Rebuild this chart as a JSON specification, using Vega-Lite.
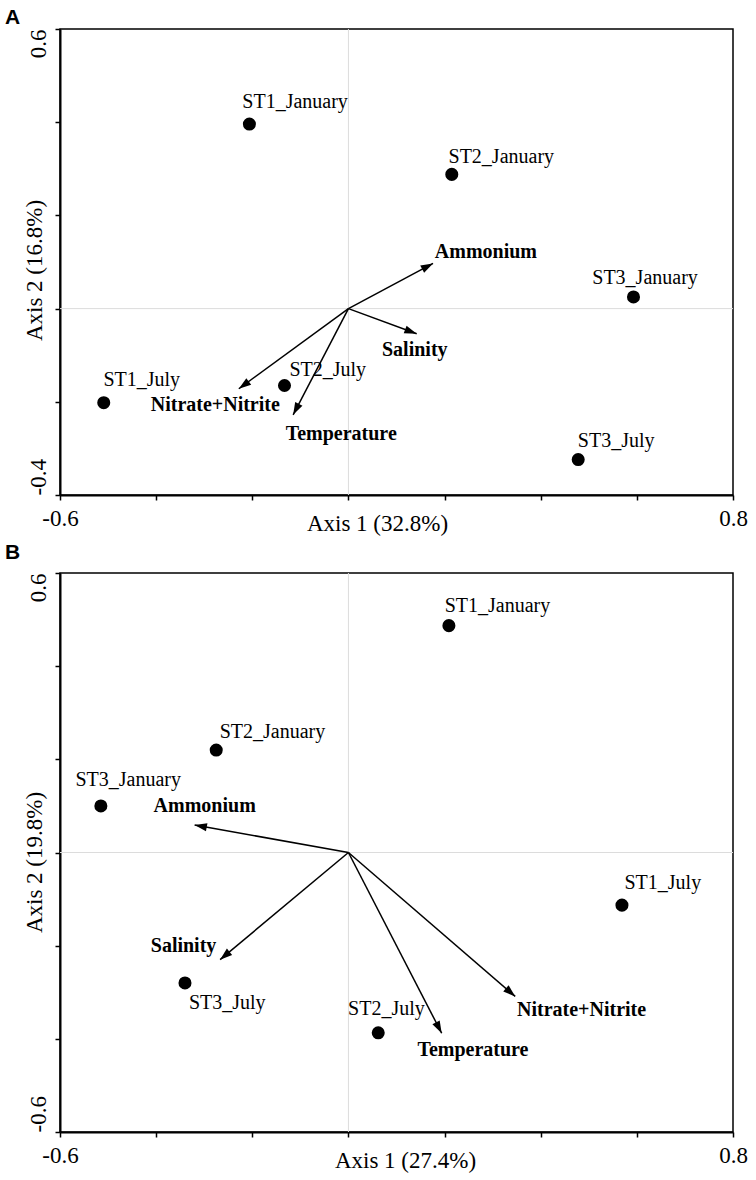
{
  "$schema": "https://vega.github.io/schema/vega-lite/v6.json",
  "background": "white",
  "padding": {"left": 4, "top": 6, "right": 5, "bottom": 5},
  "config": {
    "view": {"stroke": "black", "strokeWidth": 1.5},
    "font": "Liberation Serif",
    "title": {"font": "Liberation Sans", "fontWeight": "bold", "fontSize": 21, "color": "black", "anchor": "start", "frame": "group", "baseline": "alphabetic"}
  },
  "spacing": 5,
  "datasets": {
    "a": [
      {"kind": "site", "name": "ST1_January", "x": -0.206, "y": 0.396, "lx": -0.111, "ly": 0.431},
      {"kind": "site", "name": "ST2_January", "x": 0.215, "y": 0.288, "lx": 0.318, "ly": 0.313},
      {"kind": "site", "name": "ST3_January", "x": 0.593, "y": 0.025, "lx": 0.617, "ly": 0.052},
      {"kind": "site", "name": "ST1_July", "x": -0.509, "y": -0.202, "lx": -0.43, "ly": -0.167},
      {"kind": "site", "name": "ST2_July", "x": -0.133, "y": -0.165, "lx": -0.043, "ly": -0.145},
      {"kind": "site", "name": "ST3_July", "x": 0.478, "y": -0.324, "lx": 0.557, "ly": -0.298},
      {"kind": "env", "name": "Ammonium", "x": 0.176, "y": 0.097, "lx": 0.286, "ly": 0.109},
      {"kind": "env", "name": "Salinity", "x": 0.142, "y": -0.054, "lx": 0.138, "ly": -0.102},
      {"kind": "env", "name": "Nitrate+Nitrite", "x": -0.228, "y": -0.172, "lx": -0.277, "ly": -0.22},
      {"kind": "env", "name": "Temperature", "x": -0.115, "y": -0.228, "lx": -0.015, "ly": -0.281}
    ],
    "b": [
      {"kind": "site", "name": "ST1_January", "x": 0.209, "y": 0.487, "lx": 0.31, "ly": 0.517},
      {"kind": "site", "name": "ST2_January", "x": -0.275, "y": 0.22, "lx": -0.158, "ly": 0.246},
      {"kind": "site", "name": "ST3_January", "x": -0.515, "y": 0.1, "lx": -0.458, "ly": 0.143},
      {"kind": "site", "name": "ST1_July", "x": 0.569, "y": -0.113, "lx": 0.654, "ly": -0.079},
      {"kind": "site", "name": "ST2_July", "x": 0.062, "y": -0.387, "lx": 0.079, "ly": -0.348},
      {"kind": "site", "name": "ST3_July", "x": -0.34, "y": -0.28, "lx": -0.252, "ly": -0.335},
      {"kind": "env", "name": "Ammonium", "x": -0.32, "y": 0.059, "lx": -0.299, "ly": 0.087},
      {"kind": "env", "name": "Salinity", "x": -0.267, "y": -0.23, "lx": -0.343, "ly": -0.214},
      {"kind": "env", "name": "Temperature", "x": 0.194, "y": -0.388, "lx": 0.259, "ly": -0.436},
      {"kind": "env", "name": "Nitrate+Nitrite", "x": 0.347, "y": -0.309, "lx": 0.485, "ly": -0.35}
    ]
  },
  "vconcat": [
    {
      "title": {"text": "A", "dx": -55, "offset": 0},
      "width": 673,
      "height": 466,
      "layer": [
        {
          "data": {"values": [{"z": 0}]},
          "mark": {"type": "rule", "color": "#dcdcdc", "strokeWidth": 1},
          "encoding": {"x": {"field": "z", "type": "quantitative", "scale": {"domain": [-0.6, 0.8], "nice": false, "zero": false}}}
        },
        {
          "data": {"values": [{"z": 0}]},
          "mark": {"type": "rule", "color": "#dcdcdc", "strokeWidth": 1},
          "encoding": {"y": {"field": "z", "type": "quantitative", "scale": {"domain": [-0.4, 0.6], "nice": false, "zero": false}}}
        },
        {
          "data": {"name": "a"},
          "transform": [{"filter": "datum.kind == 'env'"}],
          "mark": {"type": "rule", "color": "black", "strokeWidth": 1.5},
          "encoding": {
            "x": {"field": "x", "type": "quantitative", "scale": {"domain": [-0.6, 0.8], "nice": false, "zero": false}},
            "y": {"field": "y", "type": "quantitative", "scale": {"domain": [-0.4, 0.6], "nice": false, "zero": false}},
            "x2": {"datum": 0},
            "y2": {"datum": 0}
          }
        },
        {
          "data": {"name": "a"},
          "transform": [{"filter": "datum.kind == 'env'"}, {"calculate": "atan2(datum.x * 480, datum.y * 466) * 180 / PI", "as": "ang"}],
          "mark": {"type": "point", "shape": "M0,0L0.4,1.2L-0.4,1.2Z", "filled": true, "color": "black", "opacity": 1, "size": 420, "strokeWidth": 0},
          "encoding": {
            "x": {"field": "x", "type": "quantitative", "scale": {"domain": [-0.6, 0.8], "nice": false, "zero": false}},
            "y": {"field": "y", "type": "quantitative", "scale": {"domain": [-0.4, 0.6], "nice": false, "zero": false}},
            "angle": {"field": "ang", "type": "quantitative", "scale": null}
          }
        },
        {
          "data": {"name": "a"},
          "transform": [{"filter": "datum.kind == 'site'"}],
          "mark": {"type": "circle", "size": 170, "color": "black", "opacity": 1},
          "encoding": {
            "x": {"field": "x", "type": "quantitative", "scale": {"domain": [-0.6, 0.8], "nice": false, "zero": false},
              "axis": {"values": [-0.6, -0.4, -0.2, 0, 0.2, 0.4, 0.6, 0.8], "labelExpr": "datum.value < -0.59 ? '-0.6' : datum.value > 0.79 ? '0.8' : ''", "grid": false, "tickSize": 5, "tickWidth": 1.5, "tickColor": "black", "domainColor": "black", "domainWidth": 2, "labelFont": "Liberation Serif", "labelFontSize": 23, "labelColor": "black", "labelBaseline": "alphabetic", "labelAlign": "center", "labelPadding": 25, "labelFlush": false, "labelOverlap": false, "title": "Axis 1 (32.8%)", "titleFont": "Liberation Serif", "titleFontSize": 23, "titleFontWeight": "normal", "titleColor": "black", "titleX": 317, "titleY": 35, "titleBaseline": "alphabetic", "titleAlign": "center"}},
            "y": {"field": "y", "type": "quantitative", "scale": {"domain": [-0.4, 0.6], "nice": false, "zero": false},
              "axis": {"values": [-0.4, -0.2, 0, 0.2, 0.4, 0.6], "labelExpr": "datum.value > 0.59 ? '0.6' : datum.value < -0.39 ? '-0.4' : ''", "grid": false, "tickSize": 5, "tickWidth": 1.5, "tickColor": "black", "domainColor": "black", "domainWidth": 2, "labelFont": "Liberation Serif", "labelFontSize": 23, "labelColor": "black", "labelAngle": -90, "labelBaseline": "alphabetic", "labelAlign": {"condition": {"test": "datum.value > 0", "value": "right"}, "value": "left"}, "labelPadding": 10, "labelFlush": false, "labelOverlap": false, "title": "Axis 2 (16.8%)", "titleFont": "Liberation Serif", "titleFontSize": 23, "titleFontWeight": "normal", "titleColor": "black", "titleAngle": -90, "titleX": -19, "titleY": 241, "titleBaseline": "alphabetic", "titleAlign": "center"}}
          }
        },
        {
          "data": {"name": "a"},
          "transform": [{"filter": "datum.kind == 'site'"}],
          "mark": {"type": "text", "font": "Liberation Serif", "fontSize": 20, "align": "center", "baseline": "alphabetic", "color": "black"},
          "encoding": {
            "x": {"field": "lx", "type": "quantitative", "scale": {"domain": [-0.6, 0.8], "nice": false, "zero": false}},
            "y": {"field": "ly", "type": "quantitative", "scale": {"domain": [-0.4, 0.6], "nice": false, "zero": false}},
            "text": {"field": "name"}
          }
        },
        {
          "data": {"name": "a"},
          "transform": [{"filter": "datum.kind == 'env'"}],
          "mark": {"type": "text", "font": "Liberation Serif", "fontSize": 20, "fontWeight": "bold", "align": "center", "baseline": "alphabetic", "color": "black"},
          "encoding": {
            "x": {"field": "lx", "type": "quantitative", "scale": {"domain": [-0.6, 0.8], "nice": false, "zero": false}},
            "y": {"field": "ly", "type": "quantitative", "scale": {"domain": [-0.4, 0.6], "nice": false, "zero": false}},
            "text": {"field": "name"}
          }
        }
      ]
    },
    {
      "title": {"text": "B", "dx": -55, "offset": 9},
      "width": 673,
      "height": 559,
      "layer": [
        {
          "data": {"values": [{"z": 0}]},
          "mark": {"type": "rule", "color": "#dcdcdc", "strokeWidth": 1},
          "encoding": {"x": {"field": "z", "type": "quantitative", "scale": {"domain": [-0.6, 0.8], "nice": false, "zero": false}}}
        },
        {
          "data": {"values": [{"z": 0}]},
          "mark": {"type": "rule", "color": "#dcdcdc", "strokeWidth": 1},
          "encoding": {"y": {"field": "z", "type": "quantitative", "scale": {"domain": [-0.6, 0.6], "nice": false, "zero": false}}}
        },
        {
          "data": {"name": "b"},
          "transform": [{"filter": "datum.kind == 'env'"}],
          "mark": {"type": "rule", "color": "black", "strokeWidth": 1.5},
          "encoding": {
            "x": {"field": "x", "type": "quantitative", "scale": {"domain": [-0.6, 0.8], "nice": false, "zero": false}},
            "y": {"field": "y", "type": "quantitative", "scale": {"domain": [-0.6, 0.6], "nice": false, "zero": false}},
            "x2": {"datum": 0},
            "y2": {"datum": 0}
          }
        },
        {
          "data": {"name": "b"},
          "transform": [{"filter": "datum.kind == 'env'"}, {"calculate": "atan2(datum.x * 480, datum.y * 466) * 180 / PI", "as": "ang"}],
          "mark": {"type": "point", "shape": "M0,0L0.4,1.2L-0.4,1.2Z", "filled": true, "color": "black", "opacity": 1, "size": 420, "strokeWidth": 0},
          "encoding": {
            "x": {"field": "x", "type": "quantitative", "scale": {"domain": [-0.6, 0.8], "nice": false, "zero": false}},
            "y": {"field": "y", "type": "quantitative", "scale": {"domain": [-0.6, 0.6], "nice": false, "zero": false}},
            "angle": {"field": "ang", "type": "quantitative", "scale": null}
          }
        },
        {
          "data": {"name": "b"},
          "transform": [{"filter": "datum.kind == 'site'"}],
          "mark": {"type": "circle", "size": 170, "color": "black", "opacity": 1},
          "encoding": {
            "x": {"field": "x", "type": "quantitative", "scale": {"domain": [-0.6, 0.8], "nice": false, "zero": false},
              "axis": {"values": [-0.6, -0.4, -0.2, 0, 0.2, 0.4, 0.6, 0.8], "labelExpr": "datum.value < -0.59 ? '-0.6' : datum.value > 0.79 ? '0.8' : ''", "grid": false, "tickSize": 5, "tickWidth": 1.5, "tickColor": "black", "domainColor": "black", "domainWidth": 2, "labelFont": "Liberation Serif", "labelFontSize": 23, "labelColor": "black", "labelBaseline": "alphabetic", "labelAlign": "center", "labelPadding": 25, "labelFlush": false, "labelOverlap": false, "title": "Axis 1 (27.4%)", "titleFont": "Liberation Serif", "titleFontSize": 23, "titleFontWeight": "normal", "titleColor": "black", "titleX": 345, "titleY": 35, "titleBaseline": "alphabetic", "titleAlign": "center"}},
            "y": {"field": "y", "type": "quantitative", "scale": {"domain": [-0.6, 0.6], "nice": false, "zero": false},
              "axis": {"values": [-0.6, -0.4, -0.2, 0, 0.2, 0.4, 0.6], "labelExpr": "datum.value > 0.59 ? '0.6' : datum.value < -0.59 ? '-0.6' : ''", "grid": false, "tickSize": 5, "tickWidth": 1.5, "tickColor": "black", "domainColor": "black", "domainWidth": 2, "labelFont": "Liberation Serif", "labelFontSize": 23, "labelColor": "black", "labelAngle": -90, "labelBaseline": "alphabetic", "labelAlign": {"condition": {"test": "datum.value > 0", "value": "right"}, "value": "left"}, "labelPadding": 10, "labelFlush": false, "labelOverlap": false, "title": "Axis 2 (19.8%)", "titleFont": "Liberation Serif", "titleFontSize": 23, "titleFontWeight": "normal", "titleColor": "black", "titleAngle": -90, "titleX": -19, "titleY": 289, "titleBaseline": "alphabetic", "titleAlign": "center"}}
          }
        },
        {
          "data": {"name": "b"},
          "transform": [{"filter": "datum.kind == 'site'"}],
          "mark": {"type": "text", "font": "Liberation Serif", "fontSize": 20, "align": "center", "baseline": "alphabetic", "color": "black"},
          "encoding": {
            "x": {"field": "lx", "type": "quantitative", "scale": {"domain": [-0.6, 0.8], "nice": false, "zero": false}},
            "y": {"field": "ly", "type": "quantitative", "scale": {"domain": [-0.6, 0.6], "nice": false, "zero": false}},
            "text": {"field": "name"}
          }
        },
        {
          "data": {"name": "b"},
          "transform": [{"filter": "datum.kind == 'env'"}],
          "mark": {"type": "text", "font": "Liberation Serif", "fontSize": 20, "fontWeight": "bold", "align": "center", "baseline": "alphabetic", "color": "black"},
          "encoding": {
            "x": {"field": "lx", "type": "quantitative", "scale": {"domain": [-0.6, 0.8], "nice": false, "zero": false}},
            "y": {"field": "ly", "type": "quantitative", "scale": {"domain": [-0.6, 0.6], "nice": false, "zero": false}},
            "text": {"field": "name"}
          }
        }
      ]
    }
  ]
}
